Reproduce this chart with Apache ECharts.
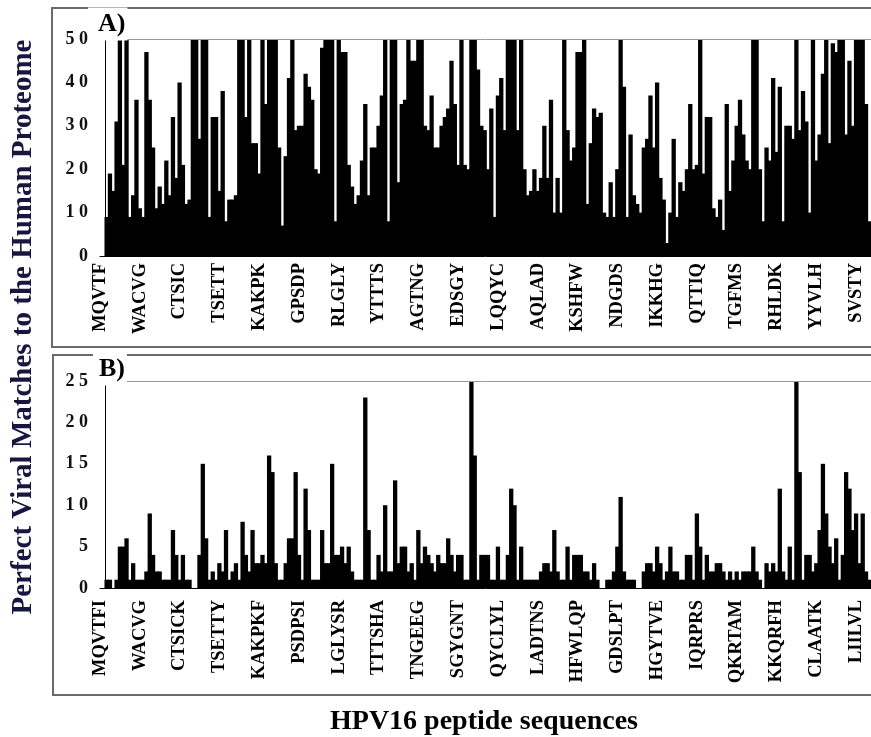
<!DOCTYPE html>
<html><head><meta charset="utf-8">
<script src="https://cdn.jsdelivr.net/npm/echarts@6/dist/echarts.min.js"></script>
<style>html,body{margin:0;padding:0;background:#fff}#c{width:871px;height:737px}</style>
</head><body><div id="c"></div>
<script>
// Tick labels (one every 12 bars)
const labelsA = ['MQVTF','WACVG','CTSIC','TSETT','KAKPK','GPSDP','RLGLY','YTTTS','AGTNG','EDSGY','LQQYC','AQLAD','KSHFW','NDGDS','IKKHG','QTTIQ','TGFMS','RHLDK','YYVLH','SVSTY'];
const labelsB = ['MQVTFI','WACVG','CTSICK','TSETTY','KAKPKF','PSDPSI','LGLYSR','TTTSHA','TNGEEG','SGYGNT','QYCLYL','LADTNS','HFWLQP','GDSLPT','HGYTVE','IQRPRS','QKRTAM','KKQRFH','CLAATK','LIILVL'];

// Panel A: perfect viral matches (capped at 50)
const valuesA = [
 9,19,15,31,50,21,50,9,14,36,
 11,9,47,36,25,11,16,12,22,14,
 32,18,40,21,12,13,50,50,27,50,
 50,9,32,32,15,38,8,13,13,14,
 50,50,32,50,26,26,19,50,35,50,
 50,50,25,7,23,41,50,29,30,30,
 42,39,36,20,19,48,50,50,50,8,
 50,47,47,21,16,12,14,22,35,14,
 25,25,30,37,50,8,50,50,17,35,
 36,50,45,45,50,50,30,29,37,25,
 25,30,32,34,45,35,21,50,21,20,
 50,50,43,30,29,20,34,9,37,41,
 29,50,50,50,29,50,20,14,15,20,
 15,18,30,18,36,10,18,10,50,29,
 22,25,47,47,50,12,26,34,32,33,
 10,9,17,9,20,50,39,9,28,14,
 12,10,25,27,37,25,40,18,13,3,
 10,27,9,17,15,20,35,20,21,50,
 19,32,32,11,9,13,6,35,15,22,
 30,36,28,22,20,50,50,20,8,25,
 22,41,24,39,8,30,30,27,50,29,
 38,31,10,50,22,28,42,50,26,49,
 47,50,50,28,45,30,50,50,50,35,8
];

// Panel B
const valuesB = [
 1,1,0,1,5,5,6,1,3,1,
 1,1,2,9,4,2,2,1,1,1,
 7,4,1,4,1,1,0,0,4,15,
 6,1,2,1,3,2,7,1,2,3,
 1,8,4,2,7,3,3,4,3,16,
 14,3,1,1,3,6,6,14,4,1,
 12,7,1,1,1,7,3,3,15,4,
 4,5,3,5,2,1,1,1,23,7,
 1,1,4,2,10,2,2,13,3,5,
 5,2,3,1,7,3,5,4,3,2,
 4,3,3,6,4,2,4,4,1,1,
 25,16,1,4,4,4,1,1,5,1,
 1,4,12,10,1,5,1,1,1,1,
 1,2,3,3,2,7,2,1,1,5,
 1,4,4,4,2,2,1,3,1,0,
 0,1,1,2,5,11,2,1,1,1,
 0,0,2,3,3,2,5,3,1,2,
 5,2,2,1,1,4,4,1,9,5,
 1,4,2,2,3,3,2,1,2,1,
 2,1,2,2,2,5,2,1,0,3,
 2,3,2,12,2,1,5,1,25,14,
 1,4,4,2,3,7,15,9,5,3,6,
 1,4,14,12,7,9,3,9,2,1
];

const yMaxA = 50, yStepA = 10;
const yMaxB = 25, yStepB = 5;

const FONT = '"Liberation Serif","Times New Roman",serif';
const PER_LABEL = 12, FIRST = 2, XMAX = 232.5;

function xAxisCfg(gi, labels, margin) {
  return {
    type: 'value', gridIndex: gi, min: 0, max: XMAX, interval: PER_LABEL,
    axisLine: { show: true, onZero: true, lineStyle: { color: '#000', width: 1 } },
    axisTick: { show: false }, splitLine: { show: false },
    axisLabel: {
      rotate: 90, margin: margin, fontFamily: FONT, fontWeight: 'bold', fontSize: 18.5, color: '#000',
      showMaxLabel: false,
      formatter: v => (Math.abs(v % PER_LABEL) < 1e-6 ? (labels[Math.round(v / PER_LABEL)] || '') : '')
    }
  };
}
function yAxisCfg(gi, max, step) {
  return {
    type: 'value', gridIndex: gi, min: 0, max: max, interval: step, offset: -5,
    axisLine: { show: true, lineStyle: { color: '#000', width: 1 } },
    axisTick: { show: false }, splitLine: { show: false },
    axisLabel: {
      margin: 17, fontFamily: FONT, fontWeight: 'bold', fontSize: 18, color: '#111',
      formatter: v => String(v).split('').join(' ')
    }
  };
}
function barSeries(idx, values, max) {
  return {
    type: 'bar', xAxisIndex: idx, yAxisIndex: idx,
    data: values.map((v, i) => [i + FIRST, v]),
    barWidth: 4.3, itemStyle: { color: '#000' }, animation: false,
    markLine: {
      silent: true, symbol: 'none', label: { show: false },
      lineStyle: { color: '#9a9a9a', type: 'solid', width: 1 },
      data: [{ yAxis: max }]
    }
  };
}

const chart = echarts.init(document.getElementById('c'), null, { renderer: 'canvas' });
chart.setOption({
  animation: false,
  backgroundColor: '#fff',
  grid: [
    { left: 100, top: 39, width: 772, height: 217 },
    { left: 100, top: 381, width: 772, height: 207 }
  ],
  xAxis: [xAxisCfg(0, labelsA, 7), xAxisCfg(1, labelsB, 12)],
  yAxis: [yAxisCfg(0, yMaxA, yStepA), yAxisCfg(1, yMaxB, yStepB)],
  series: [barSeries(0, valuesA, yMaxA), barSeries(1, valuesB, yMaxB)],
  graphic: [
    { type: 'rect', z: 0, shape: { x: 52, y: 8, width: 840, height: 339 }, style: { fill: 'none', stroke: '#6a6a6a', lineWidth: 2 } },
    { type: 'rect', z: 0, shape: { x: 53, y: 355, width: 840, height: 340 }, style: { fill: 'none', stroke: '#6a6a6a', lineWidth: 2 } },
    { type: 'text', z: 10, style: { text: 'A)', x: 88, y: 24, font: 'bold 26px ' + FONT, fill: '#000', verticalAlign: 'middle', backgroundColor: '#fff', padding: [6, 2, 1, 10] } },
    { type: 'text', z: 10, style: { text: 'B)', x: 93, y: 369, font: 'bold 26px ' + FONT, fill: '#000', verticalAlign: 'middle', backgroundColor: '#fff', padding: [6, 2, 1, 6] } },
    { type: 'text', z: 10, x: 24, y: 327, rotation: Math.PI / 2, style: { text: 'Perfect Viral Matches to the Human Proteome', x: 0, y: 0, font: 'bold 29px ' + FONT, fill: '#161640', align: 'center', verticalAlign: 'middle' } },
    { type: 'text', z: 10, style: { text: 'HPV16 peptide sequences', x: 484, y: 722, font: 'bold 28px ' + FONT, fill: '#000', align: 'center', verticalAlign: 'middle' } }
  ]
});
</script>
</body></html>
